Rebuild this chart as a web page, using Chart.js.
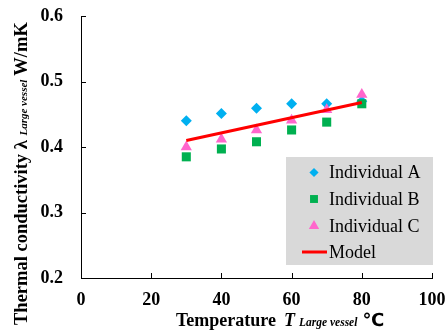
<!DOCTYPE html>
<html>
<head>
<meta charset="utf-8">
<script src="https://cdn.jsdelivr.net/npm/chart.js@4"></script>
<style>
  html, body { margin: 0; padding: 0; background: #fff; }
  #wrap { width: 446px; height: 331px; }
</style>
</head>
<body>
<div id="wrap"><canvas id="Thermal_Chart"></canvas></div>
<script>
const temps = [30, 40, 50, 60, 70, 80];
const individualA = [0.440, 0.451, 0.459, 0.466, 0.466, 0.470];
const individualB = [0.385, 0.397, 0.408, 0.426, 0.438, 0.466];
const individualC = [0.400, 0.412, 0.426, 0.441, 0.457, 0.480];
const modelT = [30, 80];
const modelK = [0.410, 0.468];
const xTicks = [0, 20, 40, 60, 80, 100];
const yTicks = [0.2, 0.3, 0.4, 0.5, 0.6];

const SERIF = "'Liberation Serif', 'Times New Roman', serif";

function toPoints(xs, ys) {
  return xs.map((x, i) => ({ x: x, y: ys[i] }));
}

// inward tick marks, axis titles with subscripts, grey legend box
const extrasPlugin = {
  id: "extras",
  afterDraw(chart) {
    const ctx = chart.ctx;
    const xs = chart.scales.x;
    const ys = chart.scales.y;
    const area = chart.chartArea;
    ctx.save();
    ctx.strokeStyle = "#000";
    ctx.lineWidth = 1;
    xTicks.forEach((v) => {
      const px = Math.round(xs.getPixelForValue(v)) + 0.5;
      ctx.beginPath();
      ctx.moveTo(px, area.bottom);
      ctx.lineTo(px, area.bottom - 5);
      ctx.stroke();
    });
    yTicks.forEach((v) => {
      const py = Math.round(ys.getPixelForValue(v)) + 0.5;
      ctx.beginPath();
      ctx.moveTo(area.left, py);
      ctx.lineTo(area.left + 5, py);
      ctx.stroke();
    });

    // x title
    ctx.fillStyle = "#000";
    ctx.textBaseline = "alphabetic";
    ctx.textAlign = "left";
    let x = 176;
    const by = 326;
    ctx.font = "bold 18px " + SERIF;
    ctx.fillText("Temperature", x, by);
    x += ctx.measureText("Temperature").width + 8;
    ctx.font = "italic bold 18px " + SERIF;
    ctx.fillText("T", x, by);
    x += ctx.measureText("T").width + 4;
    ctx.font = "italic bold 11.5px " + SERIF;
    ctx.fillText("Large vessel", x, by);
    x += ctx.measureText("Large vessel").width + 5;
    ctx.font = "bold 18px 'DejaVu Sans', sans-serif";
    ctx.fillText("\u2103", x, by);

    // y title (rotated)
    ctx.save();
    ctx.translate(27, 325);
    ctx.rotate(-Math.PI / 2);
    let t = 0;
    ctx.font = "bold 18.5px " + SERIF;
    ctx.fillText("Thermal conductivity \u03bb ", t, 0);
    t += ctx.measureText("Thermal conductivity \u03bb ").width;
    ctx.font = "italic bold 11px " + SERIF;
    ctx.fillText("Large vessel", t, 0);
    t += ctx.measureText("Large vessel").width + 4;
    ctx.font = "bold 18.5px " + SERIF;
    ctx.fillText("W/mK", t, 0);
    ctx.restore();

    // legend
    const lx = 286, ly = 157, lw = 147, lh = 108;
    ctx.fillStyle = "#d9d9d9";
    ctx.fillRect(lx, ly, lw, lh);
    const rows = [172.5, 199, 226, 252];
    const legendRadius = [4.6, 5.6, 6];
    ctx.font = "18px " + SERIF;
    ctx.textBaseline = "middle";
    chart.data.datasets.slice().sort((a, b) => a.legendIndex - b.legendIndex).forEach((ds, i) => {
      const ry = rows[i];
      if (ds.showLine) {
        ctx.strokeStyle = ds.borderColor;
        ctx.lineWidth = 3;
        ctx.beginPath();
        ctx.moveTo(302, ry);
        ctx.lineTo(327, ry);
        ctx.stroke();
      } else {
        ctx.save();
        ctx.fillStyle = ds.backgroundColor;
        ctx.strokeStyle = ds.backgroundColor;
        Chart.helpers.drawPoint(ctx, {
          pointStyle: ds.pointStyle,
          radius: legendRadius[i],
          rotation: 0,
          borderWidth: 0,
        }, 314, ry);
        ctx.restore();
      }
      ctx.fillStyle = "#000";
      ctx.fillText(ds.label, 329, ry + 1);
    });
    ctx.restore();
  },
};

showChart_Thermal();
function showChart_Thermal() {
  const ctx = document.getElementById("Thermal_Chart");
  new Chart(ctx, {
    type: "scatter",
    data: {
      datasets: [
        {
          label: "Individual A",
          data: toPoints(temps, individualA),
          pointStyle: "rectRot",
          pointRadius: 5.5,
          backgroundColor: "#00b0f0",
          borderColor: "#00b0f0",
          borderWidth: 0,
          order: 3,
          legendIndex: 0,
        },
        {
          label: "Individual B",
          data: toPoints(temps, individualB),
          pointStyle: "rect",
          pointRadius: 6.4,
          backgroundColor: "#00b050",
          borderColor: "#00b050",
          borderWidth: 0,
          order: 2,
          legendIndex: 1,
        },
        {
          label: "Individual C",
          data: toPoints(temps, individualC),
          pointStyle: "triangle",
          pointRadius: 6.5,
          backgroundColor: "#ff66cc",
          borderColor: "#ff66cc",
          borderWidth: 0,
          order: 1,
          legendIndex: 2,
        },
        {
          label: "Model",
          type: "line",
          data: toPoints(modelT, modelK),
          showLine: true,
          borderColor: "#ff0000",
          backgroundColor: "#ff0000",
          borderWidth: 3,
          pointRadius: 0,
          fill: false,
          order: 0,
          legendIndex: 3,
        },
      ],
    },
    options: {
      responsive: true,
      maintainAspectRatio: false,
      animation: false,
      layout: { padding: { top: 16, right: 14, left: 0, bottom: 0 } },
      scales: {
        x: {
          type: "linear",
          min: 0,
          max: 100,
          afterFit(s) {
            s.height = 53;
            s.paddingLeft = 0;
            s.paddingRight = 0;
          },
          afterBuildTicks(s) { s.ticks = xTicks.map((v) => ({ value: v })); },
          grid: { display: false, drawTicks: false },
          border: { display: true, color: "#000", width: 1 },
          ticks: {
            padding: 12,
            color: "#000",
            font: { family: SERIF, size: 18, weight: "bold" },
          },
        },
        y: {
          type: "linear",
          min: 0.2,
          max: 0.6,
          afterFit(s) {
            s.width = 81;
            s.paddingTop = 0;
            s.paddingBottom = 0;
          },
          afterBuildTicks(s) { s.ticks = yTicks.map((v) => ({ value: v })); },
          grid: { display: false, drawTicks: false },
          border: { display: true, color: "#000", width: 1 },
          ticks: {
            padding: 18,
            color: "#000",
            font: { family: SERIF, size: 18, weight: "bold" },
            callback: (v) => v.toFixed(1),
          },
        },
      },
      plugins: {
        legend: { display: false },
        tooltip: { enabled: false },
      },
    },
    plugins: [extrasPlugin],
  });
}
</script>
</body>
</html>
